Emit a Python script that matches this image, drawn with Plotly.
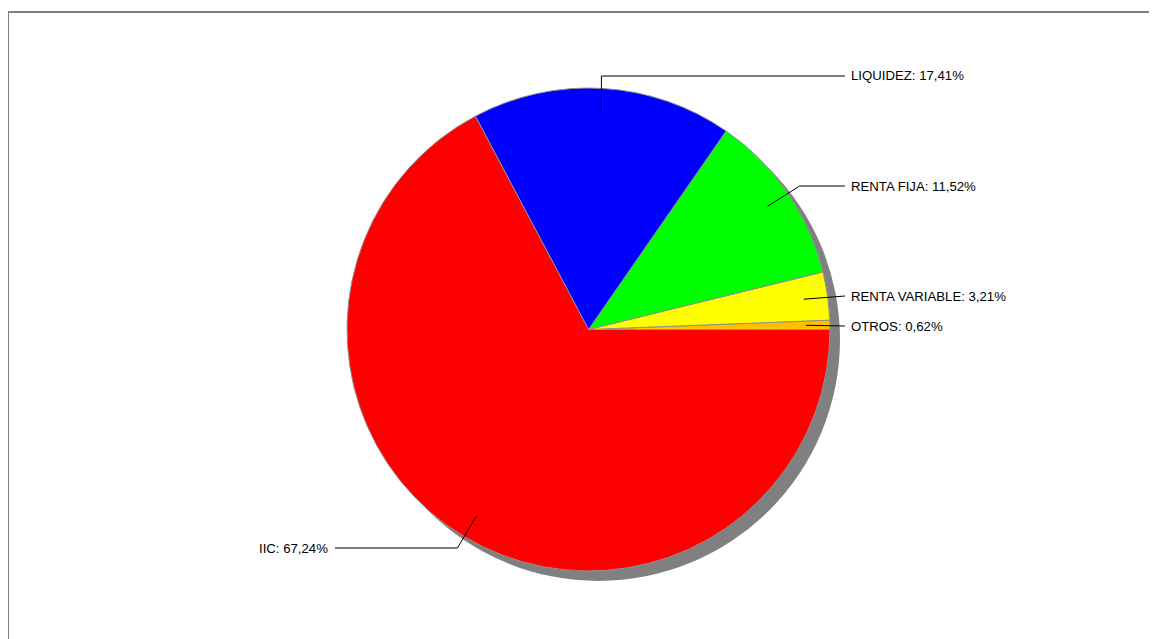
import math
import plotly.graph_objects as go

labels = ["OTROS", "RENTA VARIABLE", "RENTA FIJA", "LIQUIDEZ", "IIC"]
values = [0.62, 3.21, 11.52, 17.41, 67.24]
colors = ["#FFC000", "#FFFF00", "#00FF00", "#0000FF", "#FF0000"]
text_labels = ["OTROS: 0,62%", "RENTA VARIABLE: 3,21%", "RENTA FIJA: 11,52%",
               "LIQUIDEZ: 17,41%", "IIC: 67,24%"]

W, H = 1157, 639
OFFX, OFFY = 8, 7  # page offset of the plot div
cx, cy, R = 588.5, 328.5, 241.5
shadow = 10

def px(x):
    return (x - OFFX) / W

def py(y):
    return 1 - (y - OFFY) / H

total = sum(values)
first_deg = values[0] / total * 360

fig = go.Figure()

# shadow
fig.add_trace(go.Pie(
    values=[1], labels=["s"], marker=dict(colors=["#808080"]),
    textinfo="none", hoverinfo="skip", sort=False, showlegend=False,
    domain=dict(x=[px(cx - R + shadow), px(cx + R + shadow)],
                y=[py(cy + R + shadow), py(cy - R + shadow)])
))

fig.add_trace(go.Pie(
    values=values, labels=labels, marker=dict(colors=colors, line=dict(color="#909090", width=1)),
    textinfo="none", sort=False, direction="counterclockwise", rotation=90 - first_deg,
    showlegend=False,
    domain=dict(x=[px(cx - R), px(cx + R)], y=[py(cy + R), py(cy - R)])
))

label_y = [325, 295, 185, 75, 547]
shapes = [dict(type="rect", xref="paper", yref="paper", x0=px(8), x1=1.02, y0=-0.02, y1=py(11),
               line=dict(color="#808080", width=2))]
annotations = []
cum = 0
for i, v in enumerate(values):
    mid = (cum + v / 2) / total * 2 * math.pi
    cum += v
    ix = cx + 0.9 * R * math.cos(mid)
    iy = cy - 0.9 * R * math.sin(mid)
    ly = label_y[i]
    if math.cos(mid) >= 0:
        ex = ix if i == 3 else ix + 32 if i == 2 else 845
        end = 845
        xanchor, tx = "left", 849
    else:
        ex = ix - 19
        end = 335
        xanchor, tx = "right", 330
    pts = [(ix, iy), (ex, ly), (end, ly)]
    for (x0, y0), (x1, y1) in zip(pts[:-1], pts[1:]):
        shapes.append(dict(type="line", xref="paper", yref="paper",
                           x0=px(x0), y0=py(y0), x1=px(x1), y1=py(y1),
                           line=dict(color="black", width=1)))
    annotations.append(dict(x=px(tx), y=py(ly), xref="paper", yref="paper",
                            text=text_labels[i], showarrow=False, xanchor=xanchor,
                            yanchor="middle", font=dict(size=13.2, color="black",
                                                         family="Liberation Sans, Arial")))

fig.update_layout(
    width=W, height=H, margin=dict(l=0, r=0, t=0, b=0),
    paper_bgcolor="white", plot_bgcolor="white",
    shapes=shapes, annotations=annotations
)

fig.write_html("out.html")
